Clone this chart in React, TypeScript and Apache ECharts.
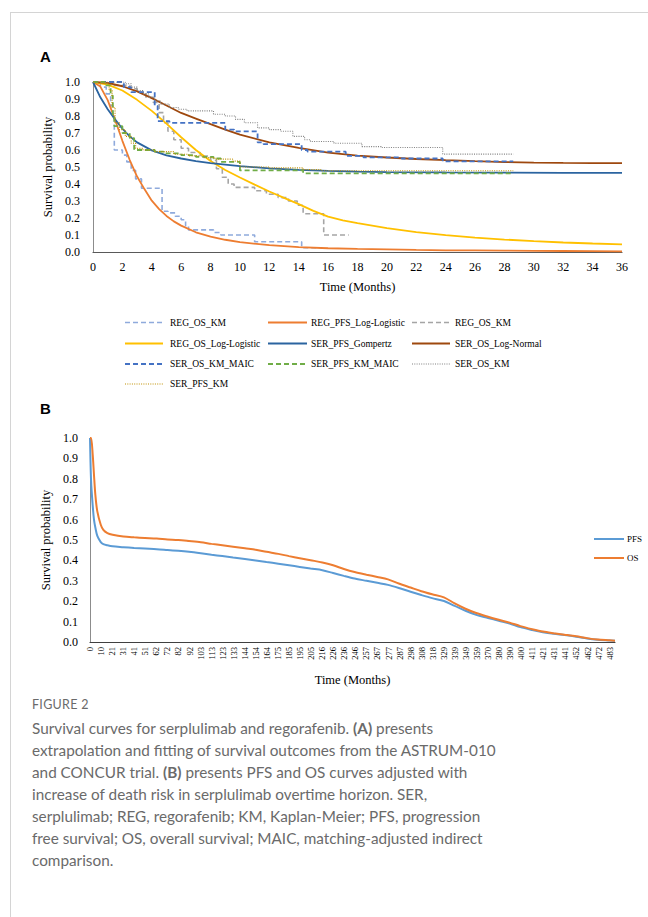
import React, { useEffect, useRef } from "react";
import * as echarts from "echarts";

// ---------- Panel A data: [time (months), survival probability] ----------
const regOsKmBlue: number[][] = [
  [0, 1], [0.5, 0.97], [0.9, 0.93], [1.2, 0.86], [1.35, 0.8], [1.45, 0.6], [2.0, 0.57], [2.3, 0.53],
  [2.6, 0.48], [2.9, 0.43], [3.3, 0.375], [4.7, 0.24], [5.1, 0.23], [5.6, 0.21], [6.0, 0.19],
  [6.3, 0.155], [6.5, 0.13], [8.2, 0.115], [8.7, 0.1], [11.0, 0.06], [14.2, 0.025], [15.6, 0.025],
];
const regPfsLogLogistic: number[][] = [
  [0, 1], [0.5, 0.973], [1, 0.893], [1.5, 0.778], [2, 0.654], [2.5, 0.541], [3, 0.444], [3.5, 0.37],
  [4, 0.302], [4.5, 0.252], [5, 0.212], [5.5, 0.18], [6, 0.155], [7, 0.116], [8, 0.09], [9, 0.072],
  [10, 0.058], [12, 0.04], [14, 0.029], [16, 0.022], [18, 0.018], [20, 0.015], [22, 0.012],
  [24, 0.01], [26, 0.009], [28, 0.008], [30, 0.007], [32, 0.006], [34, 0.005], [36, 0.004],
];
const regOsKmGray: number[][] = [
  [0, 1], [1.2, 0.98], [2.5, 0.96], [3.0, 0.94], [3.6, 0.91], [4.1, 0.88], [4.5, 0.82], [4.8, 0.76],
  [5.1, 0.71], [5.5, 0.66], [6.0, 0.61], [6.5, 0.585], [7.3, 0.565], [8.0, 0.54], [8.4, 0.49],
  [8.8, 0.44], [9.2, 0.4], [9.6, 0.38], [11.0, 0.36], [11.8, 0.34], [12.6, 0.32], [13.3, 0.3],
  [13.9, 0.275], [14.3, 0.225], [15.7, 0.1], [17.4, 0.1],
];
const regOsLogLogistic: number[][] = [
  [0, 1], [1, 0.985], [2, 0.95], [3, 0.895], [4, 0.83], [5, 0.755], [6, 0.675], [7, 0.6],
  [8, 0.535], [9, 0.482], [10, 0.438], [11, 0.396], [12, 0.356], [13, 0.318], [14, 0.282],
  [15, 0.242], [16, 0.208], [17, 0.186], [18, 0.17], [20, 0.141], [22, 0.117], [24, 0.099],
  [26, 0.085], [28, 0.073], [30, 0.064], [32, 0.056], [34, 0.05], [36, 0.045],
];
const serPfsGompertz: number[][] = [
  [0, 1], [0.5, 0.91], [1, 0.84], [1.5, 0.78], [2, 0.725], [2.5, 0.68], [3, 0.645], [4, 0.598],
  [5, 0.568], [6, 0.55], [7, 0.535], [8, 0.523], [10, 0.505], [12, 0.492], [14, 0.483],
  [16, 0.477], [18, 0.473], [20, 0.47], [24, 0.468], [28, 0.467], [32, 0.466], [36, 0.466],
];
const serOsLogNormal: number[][] = [
  [0, 1], [1, 0.995], [2, 0.975], [3, 0.945], [4, 0.905], [5, 0.862], [6, 0.818], [7, 0.785],
  [8, 0.752], [9, 0.72], [10, 0.69], [12, 0.645], [14, 0.612], [16, 0.585], [18, 0.567],
  [20, 0.556], [22, 0.547], [24, 0.54], [26, 0.534], [28, 0.529], [30, 0.526], [32, 0.524],
  [34, 0.523], [36, 0.523],
];
const serOsKmMaic: number[][] = [
  [0, 1], [2.1, 0.97], [2.6, 0.94], [4.2, 0.86], [4.4, 0.77], [5.2, 0.76], [9.0, 0.72], [9.6, 0.71],
  [11.2, 0.645], [11.6, 0.635], [14.2, 0.6], [14.6, 0.59], [17.2, 0.565], [18.4, 0.557],
  [21.0, 0.55], [23.8, 0.533], [28.6, 0.533],
];
const serPfsKmMaic: number[][] = [
  [0, 1], [0.8, 0.98], [1.2, 0.92], [1.35, 0.8], [1.45, 0.74], [2.0, 0.7], [2.5, 0.67], [2.8, 0.6],
  [4.2, 0.59], [4.8, 0.58], [6.0, 0.57], [7.0, 0.56], [8.2, 0.55], [8.7, 0.53], [10.0, 0.48],
  [14.3, 0.463], [28.6, 0.463],
];
const serOsKm: number[][] = [
  [0, 1], [2.2, 0.99], [2.6, 0.97], [3.0, 0.95], [3.4, 0.93], [3.8, 0.91], [4.2, 0.89], [4.6, 0.87],
  [5.2, 0.85], [5.8, 0.84], [6.4, 0.83], [8.2, 0.81], [9.0, 0.8], [9.7, 0.78], [10.3, 0.76],
  [11.2, 0.73], [12.0, 0.72], [12.8, 0.71], [13.6, 0.68], [14.4, 0.66], [14.8, 0.65], [16.4, 0.64],
  [18.3, 0.62], [19.6, 0.615], [23.8, 0.576], [28.6, 0.576],
];
const serPfsKm: number[][] = [
  [0, 1], [0.8, 0.99], [1.1, 0.95], [1.3, 0.85], [1.5, 0.76], [1.8, 0.72], [2.2, 0.68], [2.6, 0.64],
  [2.9, 0.61], [3.4, 0.6], [4.2, 0.59], [5.5, 0.575], [6.5, 0.565], [7.5, 0.555], [8.3, 0.546],
  [9.5, 0.535], [10.0, 0.5], [12.0, 0.495], [14.3, 0.485], [15.5, 0.478], [28.6, 0.478],
];

const legendNamesA = [
  "REG_OS_KM", "REG_PFS_Log-Logistic", "REG_OS_KM",
  "REG_OS_Log-Logistic", "SER_PFS_Gompertz", "SER_OS_Log-Normal",
  "SER_OS_KM_MAIC", "SER_PFS_KM_MAIC", "SER_OS_KM",
  "SER_PFS_KM",
];
const xTicksA = [0, 36, 2];
const yTicks = [0, 1, 0.1];

// ---------- Panel B data ----------
const xLabelsB = [
  "0", "10", "21", "31", "41", "51", "62", "72", "82", "92", "103", "113", "123", "133", "144", "154",
  "164", "175", "185", "195", "205", "216", "226", "236", "246", "257", "267", "277", "287", "298",
  "308", "318", "329", "339", "349", "359", "370", "380", "390", "400", "411", "421", "431", "441",
  "452", "462", "472", "483",
];
const timeB = [
  0, 1, 2.5, 3.7, 5, 6.8, 10, 12.4, 16.2, 21, 31, 41, 51, 62, 72, 82, 92, 103, 113, 123, 133, 144,
  154, 164, 175, 185, 195, 205, 216, 226, 236, 246, 257, 267, 277, 287, 298, 308, 318, 329, 339, 349,
  359, 370, 380, 390, 400, 411, 421, 431, 441, 452, 462, 472, 483, 488,
];
const pfsB = [
  1.0, 0.79, 0.67, 0.6, 0.56, 0.52, 0.49, 0.48, 0.474, 0.469, 0.465, 0.461, 0.458, 0.455, 0.451,
  0.447, 0.442, 0.435, 0.428, 0.421, 0.414, 0.407, 0.4, 0.392, 0.384, 0.376, 0.368, 0.36, 0.352,
  0.338, 0.324, 0.311, 0.3, 0.29, 0.28, 0.265, 0.246, 0.23, 0.215, 0.201, 0.177, 0.153, 0.133,
  0.118, 0.104, 0.091, 0.073, 0.059, 0.048, 0.04, 0.034, 0.026, 0.017, 0.011, 0.007, 0.006,
];
const osB = [
  1.0, 1.0, 0.92, 0.82, 0.72, 0.64, 0.575, 0.55, 0.534, 0.526, 0.517, 0.513, 0.51, 0.507, 0.503,
  0.5, 0.495, 0.489, 0.481, 0.474, 0.467, 0.459, 0.452, 0.442, 0.432, 0.421, 0.411, 0.401, 0.39,
  0.376, 0.358, 0.343, 0.33, 0.319, 0.307, 0.287, 0.267, 0.249, 0.234, 0.219, 0.189, 0.163, 0.142,
  0.124, 0.109, 0.095, 0.078, 0.063, 0.051, 0.043, 0.036, 0.028, 0.019, 0.012, 0.008, 0.006,
];
const legendNamesB = ["PFS", "OS"];
const xMaxB = 488;

const SERIF = '"Liberation Serif", "Times New Roman", serif';

export default function App() {
  const ref = useRef<HTMLDivElement>(null);

  useEffect(() => {
    if (!ref.current) return;
    const chart = echarts.init(ref.current, undefined, { renderer: "svg" });

    const seriesA = [
      { data: regOsKmBlue, color: "#8FAADC", type: "dashed", width: 1.6, step: true },
      { data: regPfsLogLogistic, color: "#ED7D31", type: "solid", width: 1.8, step: false },
      { data: regOsKmGray, color: "#A5A5A5", type: "dashed", width: 1.6, step: true },
      { data: regOsLogLogistic, color: "#FFC000", type: "solid", width: 1.8, step: false },
      { data: serPfsGompertz, color: "#2B64A0", type: "solid", width: 1.8, step: false },
      { data: serOsLogNormal, color: "#9E480E", type: "solid", width: 1.8, step: false },
      { data: serOsKmMaic, color: "#4472C4", type: "dashed", width: 1.8, step: true },
      { data: serPfsKmMaic, color: "#70AD47", type: "dashed", width: 1.8, step: true },
      { data: serOsKm, color: "#808080", type: "dotted", width: 1.1, step: true },
      { data: serPfsKm, color: "#BF9000", type: "dotted", width: 1.2, step: true },
    ];
    const dashOf = (t: string) => (t === "dashed" ? [5, 3] : t === "dotted" ? [1, 1.3] : undefined);

    const lineSeriesA = seriesA.map((s, i) => ({
      name: legendNamesA[i],
      type: "line",
      xAxisIndex: 0,
      yAxisIndex: 0,
      data: s.data,
      step: s.step ? "end" : false,
      symbol: "none",
      showSymbol: false,
      silent: true,
      lineStyle: { color: s.color, width: s.width, type: dashOf(s.type) || "solid" },
      itemStyle: { color: s.color },
    }));

    // Legends drawn as graphic (names repeat in A, so a standard legend cannot hold them apart)
    const colX = [[125, 163, 170], [268, 307, 311], [412, 450, 455]];
    const rowY = [322.5, 343.5, 364, 384];
    const legendGraphics: any[] = [];
    const addLegendItem = (x1: number, x2: number, tx: number, y: number, color: string, width: number, dash: any, text: string, size: number) => {
      legendGraphics.push({
        type: "line",
        silent: true,
        shape: { x1, y1: y, x2, y2: y },
        style: { stroke: color, lineWidth: width, lineDash: dash || null },
      });
      legendGraphics.push({
        type: "text",
        silent: true,
        x: tx,
        y,
        style: { text, font: `${size}px ${SERIF}`, fill: "#000", verticalAlign: "middle" },
      });
    };
    seriesA.forEach((s, i) => {
      const c = colX[i % 3];
      addLegendItem(c[0], c[1], c[2], rowY[Math.floor(i / 3)], s.color, s.width, dashOf(s.type), legendNamesA[i], 9.5);
    });
    const colorsB = ["#5B9BD5", "#ED7D31"];
    legendNamesB.forEach((n, i) => {
      addLegendItem(594, 624, 627, 539 + i * 19, colorsB[i], 2, null, n, 9);
    });

    const stepB = 483 / (xLabelsB.length - 1);

    const axisLabelCommon = { fontFamily: SERIF, fontSize: 12, color: "#000" };
    const nameCommon = { fontFamily: SERIF, fontSize: 12.5, color: "#000" };

    chart.setOption({
      animation: false,
      backgroundColor: "transparent",
      grid: [
        { left: 93, top: 82, width: 529, height: 170 },
        { left: 90, top: 438, width: 525, height: 204 },
      ],
      xAxis: [
        {
          type: "value",
          gridIndex: 0,
          min: xTicksA[0],
          max: xTicksA[1],
          interval: xTicksA[2],
          axisLine: { show: true, onZero: false, lineStyle: { color: "#595959", width: 1.2 } },
          axisTick: { show: false },
          splitLine: { show: false },
          axisLabel: { ...axisLabelCommon, margin: 9 },
          name: "Time (Months)",
          nameLocation: "middle",
          nameGap: 28,
          nameTextStyle: nameCommon,
        },
        {
          type: "value",
          gridIndex: 1,
          min: 0,
          max: xMaxB,
          interval: stepB,
          axisLine: { show: true, onZero: false, lineStyle: { color: "#404040", width: 1.2 } },
          axisTick: { show: false },
          splitLine: { show: false },
          axisLabel: {
            fontFamily: SERIF,
            fontSize: 8.5,
            color: "#000",
            rotate: 90,
            margin: 5,
            showMaxLabel: false,
            formatter: (v: number) => {
              const i = Math.round(v / stepB);
              return Math.abs(v - i * stepB) < 1e-3 && i < xLabelsB.length ? xLabelsB[i] : "";
            },
          },
          name: "Time (Months)",
          nameLocation: "middle",
          nameGap: 31,
          nameTextStyle: nameCommon,
        },
      ],
      yAxis: [0, 1].map((g) => ({
        type: "value",
        gridIndex: g,
        min: yTicks[0],
        max: yTicks[1],
        interval: yTicks[2],
        axisLine: { show: true, lineStyle: { color: "#8c8c8c", width: 1 } },
        axisTick: { show: false },
        splitLine: { show: false },
        axisLabel: { ...axisLabelCommon, margin: g === 0 ? 13 : 12, formatter: (v: number) => v.toFixed(1) },
        name: "Survival probability",
        nameLocation: "middle",
        nameGap: g === 0 ? 31 : 34,
        nameTextStyle: nameCommon,
      })),
      graphic: [
        {
          type: "text",
          x: 40,
          y: 56,
          style: { text: "A", font: 'bold 15px "Liberation Sans", Arial, sans-serif', fill: "#000", verticalAlign: "middle" },
        },
        {
          type: "text",
          x: 40,
          y: 408,
          style: { text: "B", font: 'bold 15px "Liberation Sans", Arial, sans-serif', fill: "#000", verticalAlign: "middle" },
        },
        ...legendGraphics,
      ],
      series: [
        ...lineSeriesA,
        {
          name: legendNamesB[0],
          type: "line",
          xAxisIndex: 1,
          yAxisIndex: 1,
          data: timeB.map((t, i) => [t, pfsB[i]]),
          symbol: "none",
          showSymbol: false,
          smooth: 0.3,
          lineStyle: { color: colorsB[0], width: 2 },
          itemStyle: { color: colorsB[0] },
        },
        {
          name: legendNamesB[1],
          type: "line",
          xAxisIndex: 1,
          yAxisIndex: 1,
          data: timeB.map((t, i) => [t, osB[i]]),
          symbol: "none",
          showSymbol: false,
          smooth: 0.3,
          lineStyle: { color: colorsB[1], width: 2 },
          itemStyle: { color: colorsB[1] },
        },
      ],
    });

    return () => chart.dispose();
  }, []);

  const captionLines = [
    <>Survival curves for serplulimab and regorafenib. <b>(A)</b> presents</>,
    <>extrapolation and fitting of survival outcomes from the ASTRUM-010</>,
    <>and CONCUR trial. <b>(B)</b> presents PFS and OS curves adjusted with</>,
    <>increase of death risk in serplulimab overtime horizon. SER,</>,
    <>serplulimab; REG, regorafenib; KM, Kaplan-Meier; PFS, progression</>,
    <>free survival; OS, overall survival; MAIC, matching-adjusted indirect</>,
    <>comparison.</>,
  ];

  return (
    <div style={{ position: "absolute", left: 0, top: 0, width: 648, height: 917, background: "#fff", overflow: "hidden" }}>
      <div
        style={{
          position: "absolute",
          left: 10,
          top: 12,
          width: 640,
          height: 910,
          borderTop: "1px solid #d4d4d4",
          borderLeft: "1px solid #d4d4d4",
        }}
      />
      <div ref={ref} style={{ position: "absolute", left: 0, top: 0, width: 648, height: 695 }} />
      <div
        style={{
          position: "absolute",
          left: 32,
          top: 697,
          fontFamily: "Lato, 'Open Sans', sans-serif",
          fontSize: 12.5,
          lineHeight: "16px",
          color: "#6a6a6a",
          letterSpacing: 0.3,
        }}
      >
        FIGURE 2
      </div>
      <div
        style={{
          position: "absolute",
          left: 32,
          top: 717,
          fontFamily: "Lato, 'Open Sans', sans-serif",
          fontSize: 15.3,
          lineHeight: "22px",
          color: "#6a6a6a",
          whiteSpace: "nowrap",
        }}
      >
        {captionLines.map((l, i) => (
          <div key={i}>{l}</div>
        ))}
      </div>
    </div>
  );
}
